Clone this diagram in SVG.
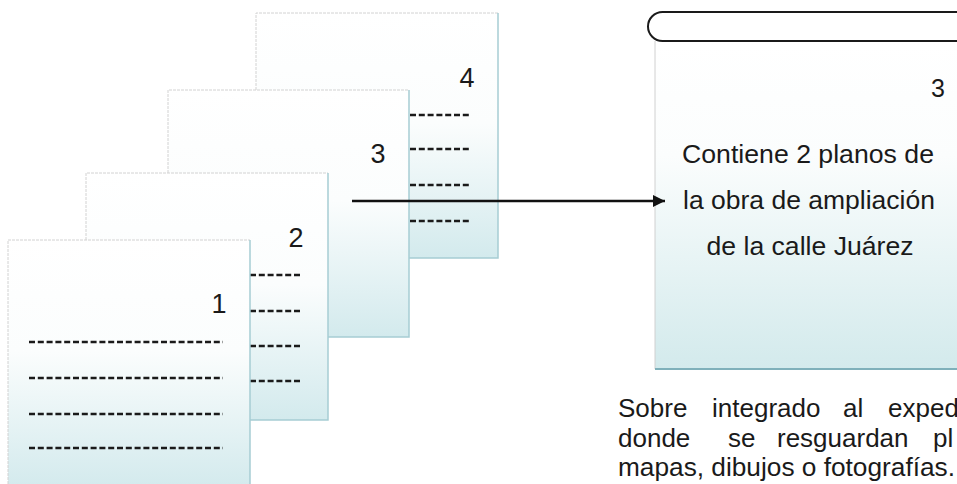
<svg xmlns="http://www.w3.org/2000/svg" width="957" height="484" viewBox="0 0 957 484">
<defs>
<linearGradient id="pg" x1="0" y1="0" x2="0" y2="1">
<stop offset="0" stop-color="#ffffff"/>
<stop offset="0.45" stop-color="#fbfdfd"/>
<stop offset="1" stop-color="#d3eaed"/>
</linearGradient>
<linearGradient id="bg" x1="0" y1="0" x2="0" y2="1">
<stop offset="0" stop-color="#ffffff"/>
<stop offset="0.35" stop-color="#fbfdfd"/>
<stop offset="1" stop-color="#d3eaec"/>
</linearGradient>
<marker id="ah" markerWidth="12" markerHeight="12" refX="12" refY="6" orient="auto" markerUnits="userSpaceOnUse">
<path d="M0,0 L12,6 L0,12 Z" fill="#111"/>
</marker>
</defs>
<style>
.page{fill:url(#pg);stroke:none}
.tl{fill:none;stroke:#d2d2d2;stroke-width:1;stroke-dasharray:3 1}
.rb{fill:none;stroke:#a6cdd3;stroke-width:1.5}
.dash{stroke:#1a1a1a;stroke-width:2.5;stroke-dasharray:6 2.8;fill:none}
.num{font-family:"Liberation Sans",Arial,sans-serif;font-size:27px;fill:#1a1a1a;text-anchor:middle}
.txt{font-family:"Liberation Sans",Arial,sans-serif;font-size:26px;fill:#1a1a1a}
</style>
<rect width="957" height="484" fill="#ffffff"/>

<g id="page4">
<rect class="page" x="256" y="13" width="242" height="245"/>
<path class="tl" d="M256,258 V13 H498"/>
<path class="rb" d="M498,13 V258 H256"/>
<text class="num" x="467" y="87">4</text>
<line class="dash" x1="410" y1="115" x2="470" y2="115"/>
<line class="dash" x1="410" y1="149" x2="470" y2="149"/>
<line class="dash" x1="410" y1="185" x2="470" y2="185"/>
<line class="dash" x1="410" y1="221" x2="470" y2="221"/>
</g>

<g id="page3">
<rect class="page" x="168" y="90" width="241" height="247"/>
<path class="tl" d="M168,337 V90 H409"/>
<path class="rb" d="M409,90 V337 H168"/>
<text class="num" x="378" y="163">3</text>
</g>

<g id="page2">
<rect class="page" x="86" y="173" width="242" height="247"/>
<path class="tl" d="M86,420 V173 H328"/>
<path class="rb" d="M328,173 V420 H86"/>
<text class="num" x="296" y="247">2</text>
<line class="dash" x1="250" y1="275" x2="301" y2="275"/>
<line class="dash" x1="250" y1="311" x2="301" y2="311"/>
<line class="dash" x1="250" y1="346" x2="301" y2="346"/>
<line class="dash" x1="250" y1="381" x2="301" y2="381"/>
</g>

<g id="page1">
<rect class="page" x="8" y="240" width="242" height="248"/>
<path class="tl" d="M8,488 V240 H250"/>
<path class="rb" d="M250,240 V488"/>
<text class="num" x="219" y="313">1</text>
<line class="dash" x1="29" y1="342" x2="223" y2="342"/>
<line class="dash" x1="29" y1="378" x2="223" y2="378"/>
<line class="dash" x1="29" y1="414" x2="223" y2="414"/>
<line class="dash" x1="29" y1="448" x2="223" y2="448"/>
</g>

<g id="envelope">
<rect x="655" y="41" width="310" height="328" fill="url(#bg)"/>
<line x1="655" y1="41" x2="655" y2="369" stroke="#d0d0d0" stroke-width="1"/>
<line x1="655" y1="369" x2="957" y2="369" stroke="#7fb0ba" stroke-width="2"/>
<rect x="648" y="12" width="330" height="29" rx="14.5" ry="14.5" fill="#ffffff" stroke="#1a1a1a" stroke-width="2"/>
<text class="num" x="938" y="97" style="font-size:25px">3</text>
<text class="txt" x="808" y="163" text-anchor="middle" textLength="252" lengthAdjust="spacingAndGlyphs">Contiene 2 planos de</text>
<text class="txt" x="809" y="209" text-anchor="middle" textLength="252" lengthAdjust="spacingAndGlyphs">la obra de ampliación</text>
<text class="txt" x="810" y="255" text-anchor="middle" textLength="207" lengthAdjust="spacingAndGlyphs">de la calle Juárez</text>
</g>

<g id="caption">
<text class="txt" y="417"><tspan x="618">Sobre</tspan><tspan x="712">integrado</tspan><tspan x="843">al</tspan><tspan x="888">exped</tspan></text>
<text class="txt" y="447"><tspan x="618">donde</tspan><tspan x="728">se</tspan><tspan x="777">resguardan</tspan><tspan x="933">pl</tspan></text>
<text class="txt" x="618" y="476" textLength="337" lengthAdjust="spacingAndGlyphs">mapas, dibujos o fotografías.</text>
</g>

<g id="connectors">
<line x1="352" y1="201" x2="665" y2="201" stroke="#111" stroke-width="2.5" marker-end="url(#ah)"/>
</g>
</svg>
